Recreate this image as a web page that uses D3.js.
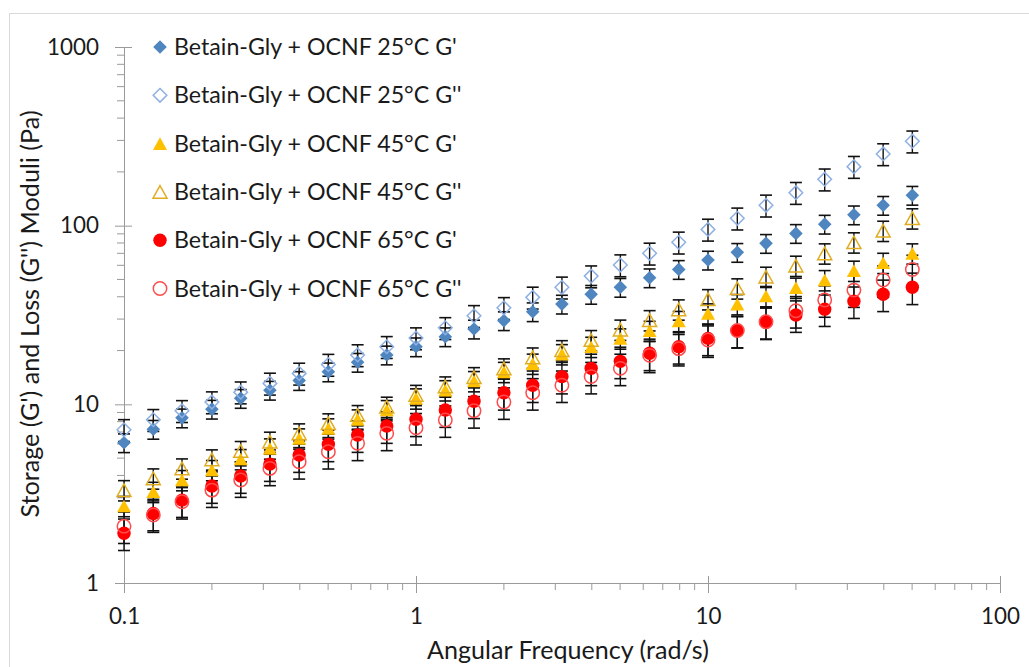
<!DOCTYPE html>
<html>
<head>
<meta charset="utf-8">
<script src="https://cdn.jsdelivr.net/npm/d3@7"></script>
<style>
  html, body { margin: 0; padding: 0; background: #fff; }
  svg { display: block; }
  text { font-family: Lato, "Open Sans", sans-serif; fill: #1a1a1a; }
</style>
</head>
<body>
<svg id="chart" width="1029" height="667"></svg>
<script>
// ---------------- data ----------------
const freq = [0.1, 0.126, 0.158, 0.2, 0.251, 0.316, 0.398, 0.501, 0.631, 0.794,
              1, 1.26, 1.58, 2, 2.51, 3.16, 3.98, 5.01, 6.31, 7.94,
              10, 12.6, 15.8, 20, 25.1, 31.6, 39.8, 50.1];

const g1_25 = [6.1, 7.25, 8.4, 9.4, 10.8, 12.0, 13.6, 15.2, 17.2, 18.9,
               21.0, 23.9, 26.4, 29.4, 33.0, 36.4, 41.3, 45.2, 51.1, 56.9,
               64.2, 70.9, 79.6, 90.5, 102, 115, 130, 148];
const g2_25 = [7.2, 8.2, 9.2, 10.3, 11.7, 13.1, 14.9, 16.7, 18.9, 21.0,
               23.5, 26.8, 31.3, 34.7, 39.7, 45.2, 52.2, 60.2, 70.0, 80.7,
               95.3, 110, 130, 153, 182, 214, 252, 297];
const g1_45 = [2.70, 3.24, 3.77, 4.29, 4.94, 5.67, 6.45, 7.34, 8.24, 9.29,
               10.8, 12.0, 13.5, 15.2, 16.9, 19.1, 21.0, 23.4, 25.8, 29.3,
               32.3, 36.4, 40.4, 45.0, 49.6, 56.0, 62.0, 70.0];
const g2_45 = [3.31, 3.85, 4.38, 4.92, 5.48, 6.18, 6.88, 7.83, 8.71, 9.70,
               11.3, 12.6, 14.2, 15.9, 18.3, 20.1, 22.9, 26.2, 29.6, 34.0,
               38.8, 44.6, 51.8, 59.7, 70.0, 80.7, 93.7, 110];
const g1_65 = [1.90, 2.45, 2.91, 3.49, 3.97, 4.63, 5.20, 5.97, 6.73, 7.56,
               8.25, 9.29, 10.4, 11.6, 12.8, 14.3, 15.9, 17.4, 19.3, 21.0,
               23.4, 25.8, 28.8, 31.6, 34.1, 37.8, 41.3, 45.2];
const g2_65 = [2.08, 2.40, 2.85, 3.31, 3.77, 4.38, 4.77, 5.43, 6.05, 6.88,
               7.40, 8.17, 9.2, 10.3, 11.6, 12.8, 14.3, 15.9, 18.8, 20.5,
               22.9, 25.9, 29.0, 33.4, 38.4, 43.6, 49.6, 56.9];

const seriesNames = ["Betain-Gly + OCNF 25°C G'", "Betain-Gly + OCNF 25°C G''",
                     "Betain-Gly + OCNF 45°C G'", "Betain-Gly + OCNF 45°C G''",
                     "Betain-Gly + OCNF 65°C G'", "Betain-Gly + OCNF 65°C G''"];
const errorPercent = [12, 14, 13, 13, 20, 20];   // error bars, % of value
const xTickValues = [0.1, 1, 10, 100];
const yTickValues = [1, 10, 100, 1000];
const xTitle = "Angular Frequency (rad/s)";
const yTitle = "Storage (G') and Loss (G'') Moduli (Pa)";

// ---------------- styles ----------------
const styles = [
  {shape: "diamond",  fill: "#4F86C0", stroke: "none"},
  {shape: "diamond",  fill: "none",    stroke: "#8FB0E3"},
  {shape: "triangle", fill: "#FFC000", stroke: "none"},
  {shape: "triangle", fill: "none",    stroke: "#E0AC20"},
  {shape: "circle",   fill: "#FF0000", stroke: "none"},
  {shape: "circle",   fill: "none",    stroke: "#FF4B4B"}
];
const seriesValues = [g1_25, g2_25, g1_45, g2_45, g1_65, g2_65];

// custom marker shapes
const diamondType = { draw(ctx) { const h = 6.8; ctx.moveTo(0,-h); ctx.lineTo(h,0); ctx.lineTo(0,h); ctx.lineTo(-h,0); ctx.closePath(); } };
const triangleType = { draw(ctx) { const w = 7, h = 6.3; ctx.moveTo(0,-h); ctx.lineTo(w,h); ctx.lineTo(-w,h); ctx.closePath(); } };
const circleType = { draw(ctx) { const r = 6.7; ctx.moveTo(r,0); ctx.arc(0,0,r,0,2*Math.PI); } };
const shapeOf = {diamond: diamondType, triangle: triangleType, circle: circleType};

// ---------------- layout ----------------
const svg = d3.select("#chart");
const plot = {left: 124, right: 1000, top: 47, bottom: 583};

// chart border
svg.append("rect").attr("x", 9.5).attr("y", 13.5).attr("width", 1040).attr("height", 680)
  .attr("fill", "none").attr("stroke", "#d9d9d9").attr("stroke-width", 1);

const x = d3.scaleLog().domain([0.1, 100]).range([plot.left, plot.right]);
const y = d3.scaleLog().domain([1, 1000]).range([plot.bottom, plot.top]);

// font sizes fitted to reference text widths
function fitSize(str, target) {
  const probe = svg.append("text").attr("font-size", 20).text(str);
  const w = probe.node().getComputedTextLength();
  probe.remove();
  return Math.round(20 * target / w * 10) / 10;
}
const fs = fitSize(seriesNames[0], 283);
const fsX = fitSize(xTitle, 282);
const fsY = fitSize(yTitle, 408);
const fsTick = fitSize("1000", 52);

const axisColor = "#9a9a9a";

// minor ticks
const minorX = [];
const minorY = [];
[0.1, 1, 10].forEach(d => { for (let k = 2; k <= 9; k++) minorX.push(d * k); });
[1, 10, 100].forEach(d => { for (let k = 2; k <= 9; k++) minorY.push(d * k); });

// x axis
const xAxis = svg.append("g").attr("transform", `translate(0,${plot.bottom})`)
  .call(d3.axisBottom(x).tickValues(xTickValues).tickFormat(d3.format("")).tickSizeInner(10).tickSizeOuter(0).tickPadding(15));
xAxis.select(".domain").attr("stroke", axisColor);
xAxis.selectAll(".tick line").attr("stroke", axisColor).attr("y1", -7);
xAxis.selectAll(".tick text").attr("font-size", fsTick).attr("font-family", "Lato").attr("fill", "#1a1a1a");
xAxis.selectAll(".minor").data(minorX).enter().append("line")
  .attr("x1", d => x(d)).attr("x2", d => x(d)).attr("y1", 0).attr("y2", 7).attr("stroke", axisColor);

// y axis
const yAxis = svg.append("g").attr("transform", `translate(${plot.left},0)`)
  .call(d3.axisLeft(y).tickValues(yTickValues).tickFormat(d3.format("")).tickSizeInner(9).tickSizeOuter(0).tickPadding(16));
yAxis.select(".domain").attr("stroke", axisColor);
yAxis.selectAll(".tick line").attr("stroke", axisColor).attr("x1", 8);
yAxis.selectAll(".tick text").attr("font-size", fsTick).attr("font-family", "Lato").attr("fill", "#1a1a1a");
yAxis.selectAll(".minor").data(minorY).enter().append("line")
  .attr("y1", d => y(d)).attr("y2", d => y(d)).attr("x1", 0).attr("x2", -7).attr("stroke", axisColor);

// axis titles
svg.append("text").attr("x", 568).attr("y", 659).attr("text-anchor", "middle")
  .attr("font-size", fsX).text(xTitle);
svg.append("text").attr("transform", `translate(39,314) rotate(-90)`)
  .attr("text-anchor", "middle").attr("font-size", fsY).text(yTitle);

// error bars
const errG = svg.append("g");
seriesValues.forEach((vals, s) => {
  const pct = errorPercent[s] / 100;
  vals.forEach((v, i) => {
    const cx = x(freq[i]);
    const yt = y(v * (1 + pct)), yb = y(v * (1 - pct));
    errG.append("line").attr("x1", cx).attr("x2", cx).attr("y1", yt).attr("y2", yb)
      .attr("stroke", "#111").attr("stroke-width", 1.4);
    [yt, yb].forEach(yy => errG.append("line").attr("x1", cx - 6).attr("x2", cx + 6)
      .attr("y1", yy).attr("y2", yy).attr("stroke", "#111").attr("stroke-width", 1.6));
  });
});

// markers
seriesValues.forEach((vals, s) => {
  const st = styles[s];
  const sym = d3.symbol().type(shapeOf[st.shape]);
  svg.append("g").selectAll("path").data(vals).enter().append("path")
    .attr("d", sym)
    .attr("transform", (v, i) => `translate(${x(freq[i])},${y(v)})`)
    .attr("fill", st.fill).attr("stroke", st.stroke).attr("stroke-width", 1.5);
});

// legend
const legendTop = 47, legendStep = 48.3;
const lg = svg.append("g");
seriesNames.forEach((name, s) => {
  const st = styles[s];
  const yy = legendTop + s * legendStep;
  lg.append("path").attr("d", d3.symbol().type(shapeOf[st.shape])())
    .attr("transform", `translate(160,${yy})`)
    .attr("fill", st.fill).attr("stroke", st.stroke).attr("stroke-width", 1.5);
  lg.append("text").attr("x", 174).attr("y", yy).attr("dy", "0.35em")
    .attr("font-size", fs).text(name);
});
</script>
</body>
</html>
